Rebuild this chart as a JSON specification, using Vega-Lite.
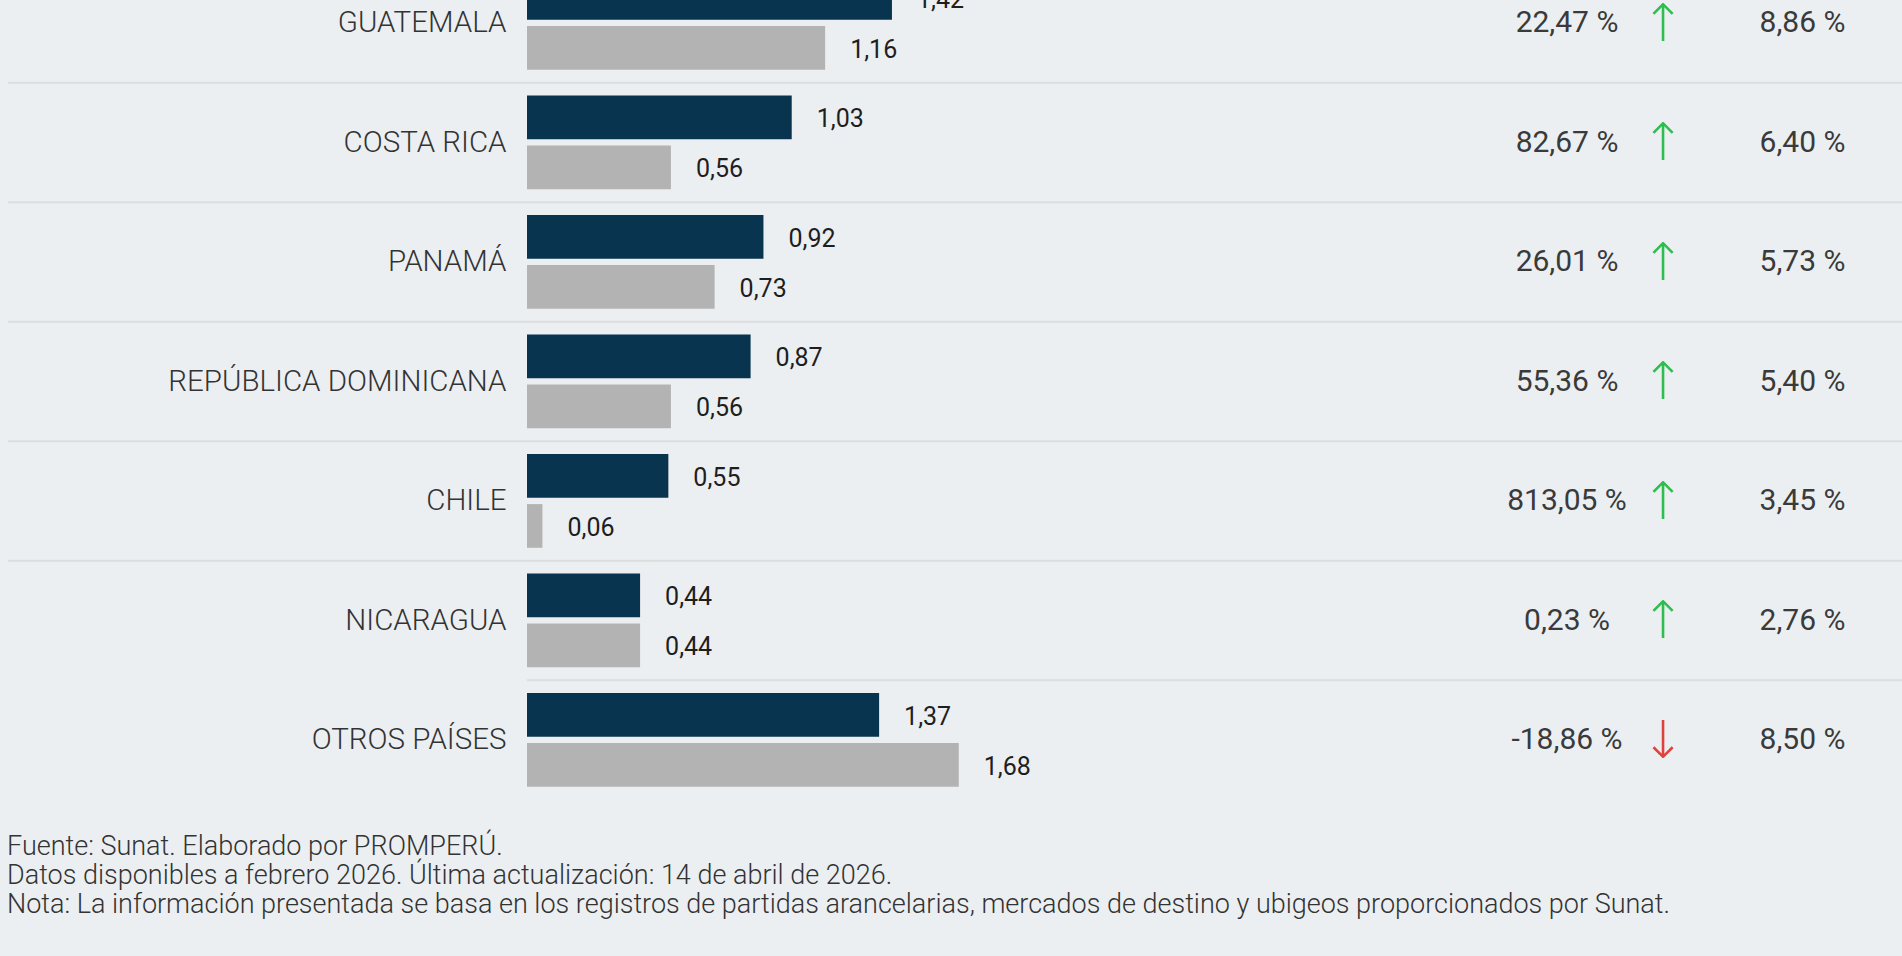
{
  "$schema": "https://vega.github.io/schema/vega-lite/v6.json",
  "width": 1894,
  "height": 800,
  "autosize": {"type": "none"},
  "padding": {"left": 8, "top": 0, "right": 0, "bottom": 156},
  "background": "#ebeff2",
  "config": {
    "view": {"stroke": null},
    "locale": {"number": {"decimal": ",", "thousands": ".", "grouping": [3], "currency": ["", " €"], "minus": "-"}}
  },
  "title": {
    "text": [
      "Fuente: Sunat. Elaborado por PROMPERÚ.",
      "Datos disponibles a febrero 2026. Última actualización: 14 de abril de 2026.",
      "Nota: La información presentada se basa en los registros de partidas arancelarias, mercados de destino y ubigeos proporcionados por Sunat."
    ],
    "orient": "bottom",
    "anchor": "start",
    "font": "Roboto",
    "fontSize": 27,
    "fontWeight": 300,
    "color": "#333333",
    "lineHeight": 29,
    "baseline": "top",
    "offset": 34
  },
  "datasets": {
    "barras": [
      {"pais": "GUATEMALA", "periodo": "2026", "valor": 1.42},
      {"pais": "GUATEMALA", "periodo": "2025", "valor": 1.16},
      {"pais": "COSTA RICA", "periodo": "2026", "valor": 1.03},
      {"pais": "COSTA RICA", "periodo": "2025", "valor": 0.56},
      {"pais": "PANAMÁ", "periodo": "2026", "valor": 0.92},
      {"pais": "PANAMÁ", "periodo": "2025", "valor": 0.73},
      {"pais": "REPÚBLICA DOMINICANA", "periodo": "2026", "valor": 0.87},
      {"pais": "REPÚBLICA DOMINICANA", "periodo": "2025", "valor": 0.56},
      {"pais": "CHILE", "periodo": "2026", "valor": 0.55},
      {"pais": "CHILE", "periodo": "2025", "valor": 0.06},
      {"pais": "NICARAGUA", "periodo": "2026", "valor": 0.44},
      {"pais": "NICARAGUA", "periodo": "2025", "valor": 0.44},
      {"pais": "OTROS PAÍSES", "periodo": "2026", "valor": 1.37},
      {"pais": "OTROS PAÍSES", "periodo": "2025", "valor": 1.68}
    ],
    "paises": [
      {"pais": "GUATEMALA", "variacion": 22.47, "participacion": 8.86},
      {"pais": "COSTA RICA", "variacion": 82.67, "participacion": 6.40},
      {"pais": "PANAMÁ", "variacion": 26.01, "participacion": 5.73},
      {"pais": "REPÚBLICA DOMINICANA", "variacion": 55.36, "participacion": 5.40},
      {"pais": "CHILE", "variacion": 813.05, "participacion": 3.45},
      {"pais": "NICARAGUA", "variacion": 0.23, "participacion": 2.76},
      {"pais": "OTROS PAÍSES", "variacion": -18.86, "participacion": 8.50}
    ]
  },
  "resolve": {"scale": {"x": "independent"}},
  "layer": [
    {
      "layer": [
        {
          "data": {"name": "paises"},
          "transform": [{"filter": "datum.pais != 'OTROS PAÍSES'"}],
          "mark": {"type": "rule", "stroke": "#dcdddd", "strokeWidth": 2},
          "encoding": {
            "y": {"field": "pais", "type": "nominal", "bandPosition": 0, "sort": null,
              "scale": {"type": "band", "domain": ["GUATEMALA", "COSTA RICA", "PANAMÁ", "REPÚBLICA DOMINICANA", "CHILE", "NICARAGUA", "OTROS PAÍSES"], "range": [-36.8, 799.7], "paddingInner": 0, "paddingOuter": 0},
              "axis": null}
          }
        },
        {
          "data": {"name": "paises"},
          "transform": [{"filter": "datum.pais == 'OTROS PAÍSES'"}],
          "mark": {"type": "rule", "stroke": "#dcdddd", "strokeWidth": 2},
          "encoding": {
            "y": {"field": "pais", "type": "nominal", "bandPosition": 0, "sort": null,
              "scale": {"type": "band", "domain": ["GUATEMALA", "COSTA RICA", "PANAMÁ", "REPÚBLICA DOMINICANA", "CHILE", "NICARAGUA", "OTROS PAÍSES"], "range": [-36.8, 799.7], "paddingInner": 0, "paddingOuter": 0},
              "axis": null},
            "x": {"datum": 0, "type": "quantitative", "scale": {"domain": [0, 5.35], "range": [519, 1894], "zero": true, "nice": false}, "axis": null},
            "x2": {"datum": 5.35}
          }
        },
        {
          "data": {"name": "barras"},
          "mark": {"type": "bar"},
          "encoding": {
            "y": {"field": "pais", "type": "nominal", "sort": null,
              "scale": {"type": "band", "domain": ["GUATEMALA", "COSTA RICA", "PANAMÁ", "REPÚBLICA DOMINICANA", "CHILE", "NICARAGUA", "OTROS PAÍSES"], "range": [-36.8, 799.7], "paddingInner": 0, "paddingOuter": 0},
              "axis": null},
            "yOffset": {"field": "periodo", "type": "nominal", "scale": {"type": "band", "domain": ["2026", "2025"], "paddingInner": 0.126, "paddingOuter": 0.258}},
            "x": {"field": "valor", "type": "quantitative", "scale": {"domain": [0, 5.35], "range": [519, 1894], "zero": true, "nice": false}, "axis": null},
            "color": {"field": "periodo", "type": "nominal", "scale": {"domain": ["2026", "2025"], "range": ["#08344f", "#b3b3b3"]}, "legend": null}
          }
        },
        {
          "data": {"name": "barras"},
          "mark": {"type": "text", "align": "left", "baseline": "middle", "dx": 25, "dy": 2, "font": "Roboto", "fontSize": 25, "color": "#1e1e1e"},
          "encoding": {
            "y": {"field": "pais", "type": "nominal", "sort": null,
              "scale": {"type": "band", "domain": ["GUATEMALA", "COSTA RICA", "PANAMÁ", "REPÚBLICA DOMINICANA", "CHILE", "NICARAGUA", "OTROS PAÍSES"], "range": [-36.8, 799.7], "paddingInner": 0, "paddingOuter": 0},
              "axis": null},
            "yOffset": {"field": "periodo", "type": "nominal", "scale": {"type": "band", "domain": ["2026", "2025"], "paddingInner": 0.126, "paddingOuter": 0.258}},
            "x": {"field": "valor", "type": "quantitative", "scale": {"domain": [0, 5.35], "range": [519, 1894], "zero": true, "nice": false}, "axis": null},
            "text": {"field": "valor", "type": "quantitative", "format": ".2f"}
          }
        },
        {
          "data": {"name": "paises"},
          "mark": {"type": "text", "align": "right", "baseline": "middle", "dx": -20.5, "dy": 0.5, "font": "Roboto", "fontSize": 29.5, "fontWeight": 300, "color": "#333333"},
          "encoding": {
            "y": {"field": "pais", "type": "nominal", "sort": null,
              "scale": {"type": "band", "domain": ["GUATEMALA", "COSTA RICA", "PANAMÁ", "REPÚBLICA DOMINICANA", "CHILE", "NICARAGUA", "OTROS PAÍSES"], "range": [-36.8, 799.7], "paddingInner": 0, "paddingOuter": 0},
              "axis": null},
            "x": {"datum": 0, "type": "quantitative", "scale": {"domain": [0, 5.35], "range": [519, 1894], "zero": true, "nice": false}, "axis": null},
            "text": {"field": "pais", "type": "nominal"}
          }
        }
      ]
    },
    {
      "layer": [
        {
          "data": {"name": "paises"},
          "transform": [
            {"fold": ["variacion", "participacion"], "as": ["columna", "pct"]},
            {"calculate": "format(datum.pct, '.2f') + ' %'", "as": "etiqueta"}
          ],
          "mark": {"type": "text", "align": "center", "baseline": "middle", "dy": 0.5, "font": "Roboto", "fontSize": 30, "color": "#3a3a3a"},
          "encoding": {
            "y": {"field": "pais", "type": "nominal", "sort": null,
              "scale": {"type": "band", "domain": ["GUATEMALA", "COSTA RICA", "PANAMÁ", "REPÚBLICA DOMINICANA", "CHILE", "NICARAGUA", "OTROS PAÍSES"], "range": [-36.8, 799.7], "paddingInner": 0, "paddingOuter": 0},
              "axis": null},
            "x": {"field": "columna", "type": "nominal", "scale": {"type": "point", "domain": ["variacion", "participacion"], "range": [1559, 1794.5], "padding": 0}, "axis": null},
            "text": {"field": "etiqueta", "type": "nominal"}
          }
        },
        {
          "data": {"name": "paises"},
          "mark": {"type": "text", "align": "center", "baseline": "middle", "dx": 96, "dy": 2, "font": "DejaVu Sans", "fontWeight": 200, "fontSize": 52},
          "encoding": {
            "y": {"field": "pais", "type": "nominal", "sort": null,
              "scale": {"type": "band", "domain": ["GUATEMALA", "COSTA RICA", "PANAMÁ", "REPÚBLICA DOMINICANA", "CHILE", "NICARAGUA", "OTROS PAÍSES"], "range": [-36.8, 799.7], "paddingInner": 0, "paddingOuter": 0},
              "axis": null},
            "x": {"datum": "variacion", "type": "nominal", "scale": {"type": "point", "domain": ["variacion", "participacion"], "range": [1559, 1794.5], "padding": 0}, "axis": null},
            "text": {"condition": {"test": "datum.variacion < 0", "value": "↓"}, "value": "↑"},
            "color": {"condition": {"test": "datum.variacion < 0", "value": "#e0413a"}, "value": "#2ebd4e"}
          }
        }
      ]
    }
  ]
}
